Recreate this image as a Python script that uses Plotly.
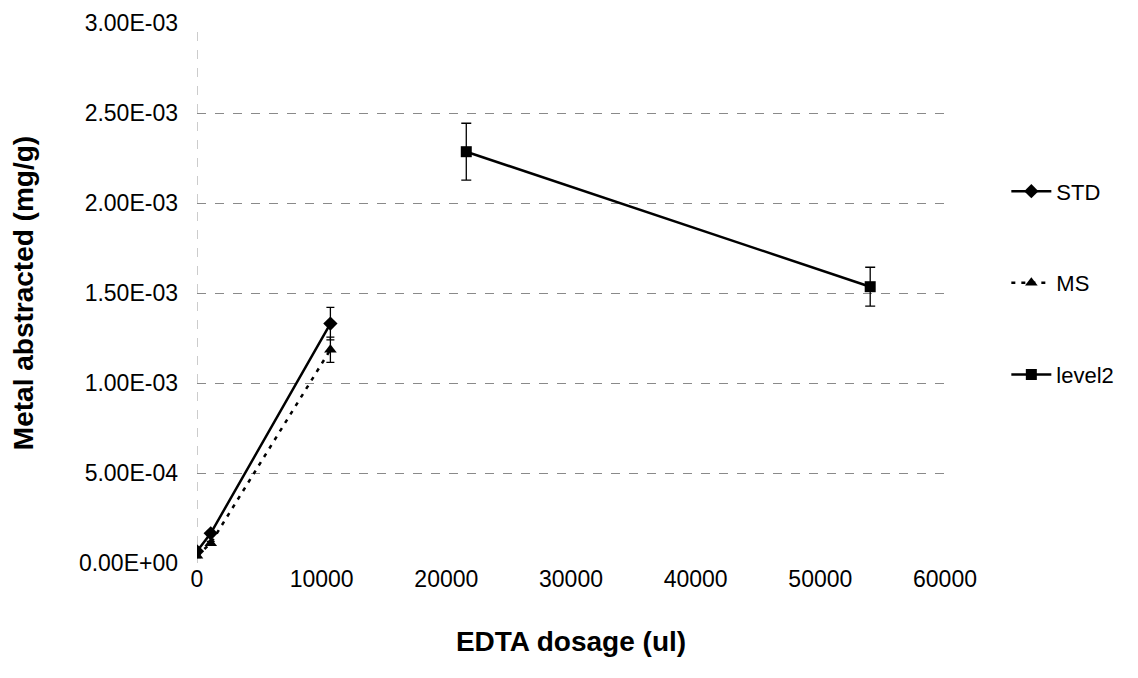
import plotly.graph_objects as go

# Data
std_x = [0, 1100, 10700]
std_y = [0.000065, 0.000165, 0.001330]
std_err = [0.00001, 0.00001, 0.000090]

ms_x = [0, 1100, 10700]
ms_y = [0.000040, 0.000110, 0.001185]
ms_err = [0.00001, 0.00001, 0.000070]

lv_x = [21600, 54000]
lv_y = [0.002285, 0.001535]
lv_err = [0.000158, 0.000108]

y_ticks = [0, 0.0005, 0.001, 0.0015, 0.002, 0.0025, 0.003]
y_labels = ["0.00E+00", "5.00E-04", "1.00E-03", "1.50E-03", "2.00E-03", "2.50E-03", "3.00E-03"]
x_ticks = [0, 10000, 20000, 30000, 40000, 50000, 60000]
x_labels = ["0", "10000", "20000", "30000", "40000", "50000", "60000"]

font_family = "Liberation Sans, Arial, sans-serif"

fig = go.Figure()

fig.add_trace(go.Scatter(
    x=std_x, y=std_y, name="STD", mode="lines+markers", legendgroup="a",
    line=dict(color="black", width=2.5),
    marker=dict(symbol="diamond", size=11, color="black"),
    error_y=dict(type="data", array=std_err, color="black", thickness=1.3, width=4),
))
fig.add_trace(go.Scatter(
    x=ms_x, y=ms_y, name="MS", mode="lines+markers", legendgroup="b",
    line=dict(color="black", width=2.5, dash="4px,6px"),
    marker=dict(symbol="triangle-up", size=11, color="black"),
    error_y=dict(type="data", array=ms_err, color="black", thickness=1.3, width=4),
))
fig.add_trace(go.Scatter(
    x=lv_x, y=lv_y, name="level2", mode="lines+markers", legendgroup="c",
    line=dict(color="black", width=2.5),
    marker=dict(symbol="square", size=11, color="black"),
    error_y=dict(type="data", array=lv_err, color="black", thickness=1.3, width=5),
))

# page body has an 8px default margin, so the figure is sized to fit inside it
fig.update_layout(
    width=1122, height=662,
    margin=dict(l=189, r=185, t=15, b=107, autoexpand=False),
    paper_bgcolor="white", plot_bgcolor="white",
    font=dict(family=font_family, color="black", size=22),
    showlegend=True,
    legend=dict(
        x=1.082, y=0.727, xanchor="left", yanchor="top",
        font=dict(size=22, family=font_family),
        tracegroupgap=60, itemwidth=40, bgcolor="rgba(0,0,0,0)",
    ),
    xaxis=dict(
        range=[0, 60000], tickvals=x_ticks, ticktext=x_labels,
        showgrid=False, zeroline=False, showline=False,
        ticks="", ticklen=0, tickfont=dict(size=23),
        title=dict(text="<b>EDTA dosage (ul)</b>", font=dict(size=28), standoff=40),
    ),
    yaxis=dict(
        range=[0, 0.003], tickvals=y_ticks, ticktext=y_labels,
        showgrid=True, gridcolor="#8a8a8a", gridwidth=1, griddash="dash",
        zeroline=False, showline=False,
        ticks="", tickfont=dict(size=23), ticklabelstandoff=18,
        title=dict(text="<b>Metal abstracted (mg/g)</b>", font=dict(size=28), standoff=38),
    ),
)

# faint dashed vertical line at x = 0 (plot-area left edge)
fig.add_shape(type="line", xref="x", yref="y", x0=0, x1=0, y0=0, y1=0.003,
              line=dict(color="#9a9a9a", width=1, dash="dash"), layer="below")

fig.write_html("out.html")
